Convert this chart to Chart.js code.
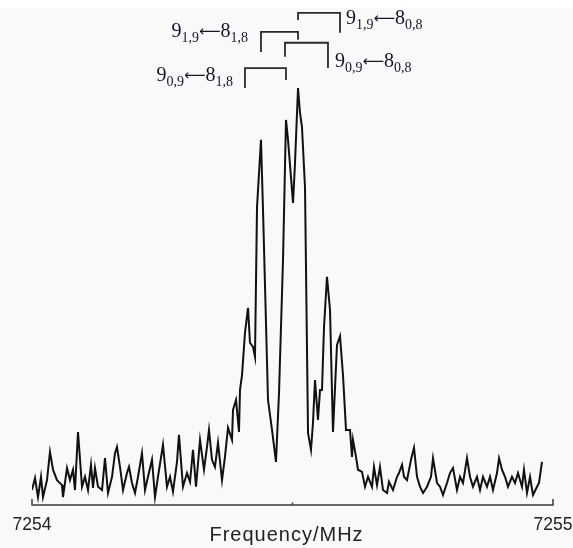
<!DOCTYPE html>
<html><head><meta charset="utf-8">
<script src="https://cdn.jsdelivr.net/npm/chart.js@4/dist/chart.umd.min.js"></script>
<style>
html,body{margin:0;padding:0;}
body{background:linear-gradient(#ffffff 0,#ffffff 8px,#f9f9f9 8px);width:573px;height:548px;overflow:hidden;}
#wrap{position:relative;width:573px;height:548px;}
</style></head><body>
<div id="wrap"><canvas id="c" width="573" height="548"></canvas></div>
<script>
// ---- data ----
const frequencies = [
7254.0000,7254.0058,7254.0115,7254.0173,7254.0211,7254.0288,7254.0345,7254.0403,7254.0480,7254.0576,
7254.0595,7254.0672,7254.0729,7254.0787,7254.0825,7254.0883,7254.0960,7254.1017,7254.1075,7254.1132,
7254.1171,7254.1209,7254.1267,7254.1344,7254.1401,7254.1459,7254.1536,7254.1593,7254.1631,7254.1689,
7254.1747,7254.1823,7254.1862,7254.1919,7254.1977,7254.2035,7254.2111,7254.2169,7254.2226,7254.2303,
7254.2361,7254.2418,7254.2514,7254.2591,7254.2649,7254.2706,7254.2783,7254.2821,7254.2898,7254.2975,
7254.3033,7254.3090,7254.3148,7254.3225,7254.3301,7254.3359,7254.3397,7254.3455,7254.3512,7254.3570,
7254.3647,7254.3704,7254.3762,7254.3839,7254.3858,7254.3916,7254.3973,7254.3992,7254.4031,7254.4088,
7254.4146,7254.4184,7254.4242,7254.4280,7254.4319,7254.4395,7254.4434,7254.4530,7254.4607,7254.4683,
7254.4741,7254.4818,7254.4875,7254.4914,7254.5010,7254.5048,7254.5106,7254.5144,7254.5182,7254.5240,
7254.5298,7254.5355,7254.5393,7254.5432,7254.5489,7254.5528,7254.5566,7254.5605,7254.5662,7254.5720,
7254.5777,7254.5854,7254.5912,7254.5969,7254.6027,7254.6104,7254.6142,7254.6161,7254.6219,7254.6257,
7254.6334,7254.6392,7254.6449,7254.6526,7254.6564,7254.6622,7254.6679,7254.6737,7254.6814,7254.6852,
7254.6929,7254.7006,7254.7044,7254.7102,7254.7140,7254.7198,7254.7274,7254.7332,7254.7390,7254.7447,
7254.7505,7254.7582,7254.7658,7254.7697,7254.7774,7254.7831,7254.7889,7254.7965,7254.8023,7254.8081,
7254.8157,7254.8215,7254.8273,7254.8349,7254.8407,7254.8464,7254.8541,7254.8599,7254.8656,7254.8733,
7254.8791,7254.8848,7254.8925,7254.8964,7254.9021,7254.9079,7254.9136,7254.9213,7254.9271,7254.9328,
7254.9405,7254.9443,7254.9501,7254.9559,7254.9616,7254.9693,7254.9731,7254.9789
];
const intensities = [
3.1,6.0,1.4,6.3,1.4,5.5,12.3,8.0,5.5,4.3,
1.4,8.4,5.5,8.0,3.1,17.1,3.9,6.3,3.1,9.2,
3.6,8.4,3.9,3.1,10.8,2.4,6.3,12.0,13.5,8.7,
3.1,7.2,8.7,4.8,2.4,6.3,12.0,3.1,6.3,10.4,
1.4,6.3,14.0,3.9,6.3,2.7,9.9,16.4,3.9,7.2,
5.1,12.8,3.9,15.2,8.0,13.5,17.6,10.4,8.7,14.5,
5.5,11.1,18.1,15.2,22.4,24.8,17.1,27.2,30.8,41.0,
47.0,38.6,37.6,35.2,71.3,87.5,70.6,24.8,17.6,9.9,
26.5,58.6,92.3,87.5,72.3,81.9,100.0,94.0,90.6,76.1,
16.9,12.8,19.3,29.6,20.0,27.2,27.2,42.4,54.5,46.5,
17.1,38.1,40.2,30.8,17.6,17.6,11.1,15.2,11.1,8.0,
7.5,3.9,6.3,3.9,8.7,4.3,8.7,3.1,2.4,5.1,
3.1,6.3,7.2,9.2,6.3,5.5,10.4,13.3,6.3,3.9,
2.4,3.9,6.3,10.8,4.8,3.9,1.9,4.8,7.2,8.4,
3.1,6.3,4.8,10.8,6.3,3.9,6.3,3.1,6.3,3.9,
6.3,3.1,7.2,10.8,8.0,6.3,3.9,6.3,4.8,7.2,
3.9,8.0,2.4,6.3,1.9,3.9,4.8,9.9
];
const axisTickValues = [7254, 7254.5, 7255];
const axisTickLabels = ['7254', '', '7255'];
const axisTitle = 'Frequency/MHz';
// rotational transition assignments J'(Ka,Kc) <- J''(Ka,Kc)
const transitionUpper = ['9', '9', '9', '9'];
const transitionUpperSub = ['1,9', '1,9', '0,9', '0,9'];
const transitionLower = ['8', '8', '8', '8'];
const transitionLowerSub = ['0,8', '1,8', '0,8', '1,8'];
const bracketLeftMHz = [7254.5106, 7254.4395, 7254.4856, 7254.4088];
const bracketRightMHz = [7254.5912, 7254.5106, 7254.5681, 7254.4875];

// ---- styling / layout of annotations (not data) ----
const bracketStyle = [
  {top:118.1, leftLeg:116.4, rightLeg:113.3, side:'right', gap:6,  base:115.4},
  {top:113.5, leftLeg:108.7, rightLeg:111.6, side:'left',  gap:13, base:112.3},
  {top:110.9, leftLeg:107.5, rightLeg:104.8, side:'right', gap:7,  base:105.1},
  {top:104.8, leftLeg:100.0, rightLeg:101.9, side:'left',  gap:12, base:101.7}
];
const MAIN_FONT = '20px "Liberation Serif", "DejaVu Serif", serif';
const SUB_FONT = '14px "Liberation Serif", "DejaVu Serif", serif';
const ARROW_FONT = '15px "DejaVu Sans", sans-serif';
const TEXT_COLOR = '#15152a';

function labelParts(i){
  return [
    {t:transitionUpper[i], f:MAIN_FONT, dy:0},
    {t:transitionUpperSub[i], f:SUB_FONT, dy:5},
    {t:'\u27F5', f:ARROW_FONT, dy:-1},
    {t:transitionLower[i], f:MAIN_FONT, dy:0},
    {t:transitionLowerSub[i], f:SUB_FONT, dy:5}
  ];
}

const annotationPlugin = {
  id:'annot',
  afterDraw(chart){
    const ctx = chart.ctx, xs = chart.scales.x, ys = chart.scales.y;
    const area = chart.chartArea;
    ctx.save();
    // brackets
    ctx.strokeStyle = '#2a2a2a';
    ctx.lineWidth = 1.8;
    ctx.lineCap = 'butt';
    for (let i = 0; i < bracketLeftMHz.length; i++){
      const s = bracketStyle[i];
      const xl = xs.getPixelForValue(bracketLeftMHz[i]);
      const xr = xs.getPixelForValue(bracketRightMHz[i]);
      const yt = ys.getPixelForValue(s.top);
      ctx.beginPath();
      ctx.moveTo(xl, ys.getPixelForValue(s.leftLeg));
      ctx.lineTo(xl, yt);
      ctx.lineTo(xr, yt);
      ctx.lineTo(xr, ys.getPixelForValue(s.rightLeg));
      ctx.stroke();
      // label
      const parts = labelParts(i);
      let w = 0;
      parts.forEach(p => { ctx.font = p.f; p.w = ctx.measureText(p.t).width; w += p.w; });
      let x = s.side === 'right' ? xr + s.gap : xl - s.gap - w;
      const yb = ys.getPixelForValue(s.base);
      ctx.fillStyle = TEXT_COLOR;
      ctx.textAlign = 'left';
      ctx.textBaseline = 'alphabetic';
      parts.forEach(p => { ctx.font = p.f; ctx.fillText(p.t, x, yb + p.dy); x += p.w; });
    }
    // x axis line with upturned end ticks
    const yAxis = area.bottom;
    const x0 = xs.getPixelForValue(axisTickValues[0]);
    const x1 = xs.getPixelForValue(axisTickValues[axisTickValues.length-1]);
    ctx.strokeStyle = '#3a3a3a';
    ctx.lineWidth = 1.5;
    ctx.beginPath();
    ctx.moveTo(x0, yAxis - 6);
    ctx.lineTo(x0, yAxis);
    ctx.lineTo(x1, yAxis);
    ctx.lineTo(x1, yAxis - 6);
    ctx.stroke();
    for (let i = 1; i < axisTickValues.length - 1; i++){
      const xm = xs.getPixelForValue(axisTickValues[i]);
      ctx.beginPath(); ctx.moveTo(xm, yAxis - 2.5); ctx.lineTo(xm, yAxis); ctx.stroke();
    }
    // tick labels
    ctx.fillStyle = '#222';
    ctx.font = '17.5px "Liberation Sans", Arial, sans-serif';
    ctx.textAlign = 'center';
    ctx.textBaseline = 'top';
    axisTickValues.forEach((v, i) => {
      if (axisTickLabels[i]) ctx.fillText(axisTickLabels[i], xs.getPixelForValue(v), yAxis + 11);
    });
    // axis title
    ctx.font = '20px "Liberation Sans", Arial, sans-serif';
    try { ctx.letterSpacing = '1px'; } catch(e) {}
    ctx.textBaseline = 'alphabetic';
    ctx.fillText(axisTitle, (x0 + x1) / 2 - 6, yAxis + 36);
    ctx.restore();
  }
};

new Chart(document.getElementById('c'), {
  type: 'line',
  data: {
    datasets: [{
      data: frequencies.map((f, i) => ({x: f, y: intensities[i]})),
      borderColor: '#111111',
      borderWidth: 2,
      pointRadius: 0,
      tension: 0,
      fill: false
    }]
  },
  options: {
    responsive: false,
    animation: false,
    events: [],
    layout: {padding: {left: 32, right: 20, top: 5, bottom: 43}},
    scales: {
      x: {type: 'linear', min: 7254, max: 7255, display: false},
      y: {type: 'linear', min: -0.5, max: 120, display: false}
    },
    plugins: {legend: {display: false}, tooltip: {enabled: false}, title: {display: false}}
  },
  plugins: [annotationPlugin]
});
</script>
</body></html>
